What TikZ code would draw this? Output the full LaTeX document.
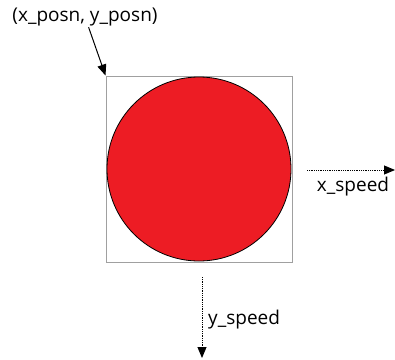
\documentclass[tikz,border=0pt]{standalone}
\usepackage{fontspec}
\setmainfont{Open Sans}
\usepackage{xcolor}
\definecolor{ballRed}{HTML}{ED1C24}
\definecolor{boxGray}{HTML}{A0A0A0}
\usetikzlibrary{arrows.meta, positioning}

\begin{document}
\begin{tikzpicture}[
    x=1pt, y=1pt,
    box/.style={rectangle, draw=boxGray, line width=1pt, minimum size=186pt, inner sep=0pt},
    ball/.style={circle, draw=black, fill=ballRed, line width=0.8pt, minimum size=184pt, inner sep=0pt},
    label/.style={font=\fontsize{19}{22}\selectfont, inner sep=1pt},
    arrow/.style={-{Triangle[length=11pt, width=9pt]}, line width=1pt, black},
    dotted_arrow/.style={-{Triangle[length=11pt, width=9pt]}, line width=0.9pt, dash pattern=on 0.9pt off 0.9pt, black}
]
    \useasboundingbox (0,0) rectangle (395,-359);

    % Nodes
    \node[box] (box) at (199,-169) {};
    \node[ball] (ball) at (199,-169) {};
    \node[label] (posn) at (85,-17) {(x\_posn, y\_posn)};
    \coordinate (xstart) at (307,-170);
    \coordinate (xend) at (395,-170);
    \node[label, anchor=north] (xspeed) at (353,-176) {x\_speed};
    \coordinate (ystart) at (202,-277);
    \coordinate (yend) at (202,-358);
    \node[label, anchor=west] (yspeed) at (207,-320) {y\_speed};

    % Connections
    \draw[arrow] (posn) -- (box.north west);
    \draw[dotted_arrow] (xstart) -- (xend);
    \draw[dotted_arrow] (ystart) -- (yend);

\end{tikzpicture}
\end{document}
